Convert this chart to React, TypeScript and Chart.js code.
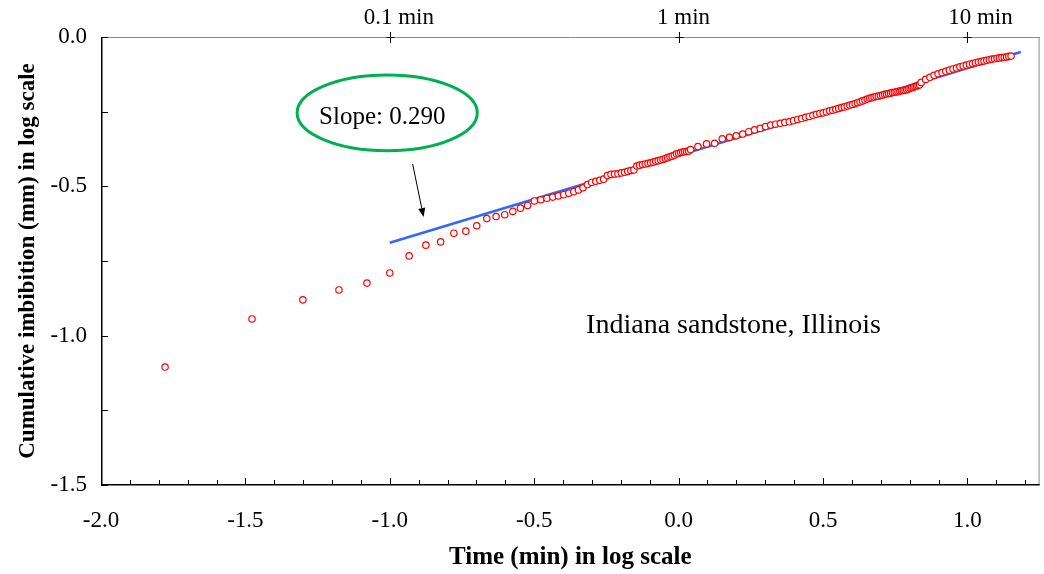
import React, { useEffect, useRef } from 'react';
import { Chart, registerables } from 'chart.js';

Chart.register(...registerables);

// Elapsed time of each measurement, in seconds (x axis = log10 of minutes)
const timesSec = [
  1, 2, 3, 4, 5, 6, 7, 8, 9, 10, 11, 12, 13, 14, 15, 16, 17, 18, 19, 20,
  21, 22, 23, 24, 25, 26, 27, 28, 29, 30, 31, 32, 33, 34, 35, 36, 37, 38, 39, 40,
  41, 42, 43, 44, 45, 46, 47, 48, 49, 50, 51, 52, 53, 54, 55, 56, 57, 58, 59, 60,
  61, 62, 63, 64, 65, 66,
  70, 75, 80, 85, 90, 95, 100, 105, 110, 115, 120, 125, 130, 135, 140, 145, 150,
  155, 160, 165, 170, 175, 180, 185, 190, 195, 200, 205, 210, 215, 220, 225, 230,
  235, 240, 245, 250, 255, 260, 265, 270, 275, 280, 285, 290, 295, 300, 305, 310,
  315, 320, 325, 330, 335, 340, 345, 350, 355, 360, 365, 370, 375, 380, 385, 390,
  395, 400, 405, 410, 415,
  430, 445, 460, 475, 490, 505, 520, 535, 550, 565, 580, 595, 610, 625, 640, 655,
  670, 685, 700, 715, 730, 745, 760, 775, 790, 805, 820, 835, 850,
];

// Cumulative imbibition (mm), log10 values
const logImbibition = [
  -1.105, -0.944, -0.880, -0.847, -0.824, -0.790, -0.733, -0.697, -0.686, -0.657,
  -0.650, -0.632, -0.608, -0.601, -0.595, -0.584, -0.573, -0.564, -0.549, -0.545,
  -0.540, -0.536, -0.532, -0.528, -0.523, -0.518, -0.512, -0.505, -0.494, -0.487,
  -0.483, -0.480, -0.476, -0.464, -0.460, -0.459, -0.458, -0.455, -0.453, -0.450,
  -0.447, -0.445, -0.432, -0.429, -0.427, -0.425, -0.423, -0.421, -0.419, -0.416,
  -0.414, -0.412, -0.410, -0.407, -0.404, -0.401, -0.399, -0.396, -0.391, -0.389,
  -0.387, -0.385, -0.384, -0.383, -0.382, -0.377,
  -0.367, -0.358, -0.356, -0.341, -0.336, -0.331, -0.325, -0.317, -0.311, -0.306,
  -0.300, -0.295, -0.292, -0.289, -0.286, -0.284, -0.280, -0.276, -0.273, -0.269,
  -0.266, -0.262, -0.259, -0.256, -0.254, -0.251, -0.247, -0.245, -0.242, -0.239,
  -0.236, -0.234, -0.231, -0.228, -0.226, -0.223, -0.220, -0.217, -0.214, -0.211,
  -0.208, -0.205, -0.203, -0.201, -0.199, -0.198, -0.196, -0.194, -0.192, -0.191,
  -0.189, -0.188, -0.186, -0.185, -0.184, -0.183, -0.181, -0.180, -0.179, -0.178,
  -0.177, -0.174, -0.172, -0.170, -0.168, -0.166, -0.164, -0.162, -0.160, -0.152,
  -0.142, -0.135, -0.128, -0.123, -0.119, -0.115, -0.111, -0.107, -0.104, -0.100,
  -0.097, -0.094, -0.091, -0.089, -0.086, -0.084, -0.082, -0.080, -0.078, -0.076,
  -0.074, -0.073, -0.071, -0.070, -0.069, -0.068, -0.067, -0.065, -0.064,
];

// Fitted straight line (slope 0.290)
const fitLineX = [-1.0, 1.185];
const fitLineY = [-0.689, -0.05];

// Axis ticks
const xMajorTicks = [-2.0, -1.5, -1.0, -0.5, 0.0, 0.5, 1.0];
const xMinorTicks = [
  -1.9, -1.8, -1.7, -1.6, -1.4, -1.3, -1.2, -1.1, -0.9, -0.8, -0.7, -0.6,
  -0.4, -0.3, -0.2, -0.1, 0.1, 0.2, 0.3, 0.4, 0.6, 0.7, 0.8, 0.9, 1.1, 1.2,
];
const yMajorTicks = [-1.5, -1.0, -0.5, 0.0];
const yMinorTicks = [-1.25, -0.75, -0.25];
const topTicks = [-1, 0, 1];
const topTickLabels = ['0.1 min', '1 min', '10 min'];

const FONT = "'Liberation Serif', 'Times New Roman', Times, serif";
const TOP_LABEL_SHIFT = [9, 5, 13];

const axesPlugin = {
  id: 'customAxes',
  afterDatasetsDraw(chart: any) {
    const { ctx, scales } = chart;
    const xs = scales.x;
    const ys = scales.y;
    ctx.save();
    // Slope callout ellipse
    const ecx = xs.getPixelForValue(-1.009);
    const ecy = ys.getPixelForValue(-0.254);
    const erx = xs.getPixelForValue(-1.009 + 0.312) - ecx;
    const ery = ys.getPixelForValue(-0.254 - 0.127) - ecy;
    ctx.beginPath();
    ctx.ellipse(ecx, ecy, erx, ery, 0, 0, Math.PI * 2);
    ctx.strokeStyle = '#00B050';
    ctx.lineWidth = 3;
    ctx.stroke();
    ctx.fillStyle = '#000';
    ctx.font = `25px ${FONT}`;
    ctx.textAlign = 'center';
    ctx.textBaseline = 'middle';
    ctx.fillText('Slope: 0.290', xs.getPixelForValue(-1.026), ys.getPixelForValue(-0.268));

    // Arrow
    const ax1 = xs.getPixelForValue(-0.921);
    const ay1 = ys.getPixelForValue(-0.425);
    const ax2 = xs.getPixelForValue(-0.883);
    const ay2 = ys.getPixelForValue(-0.603);
    const ang = Math.atan2(ay2 - ay1, ax2 - ax1);
    const hl = 9;
    const hw = 3.5;
    const bx = ax2 - hl * Math.cos(ang);
    const by = ay2 - hl * Math.sin(ang);
    ctx.beginPath();
    ctx.moveTo(ax1, ay1);
    ctx.lineTo(bx, by);
    ctx.strokeStyle = '#000';
    ctx.lineWidth = 1;
    ctx.stroke();
    ctx.beginPath();
    ctx.moveTo(ax2, ay2);
    ctx.lineTo(bx + hw * Math.sin(ang), by - hw * Math.cos(ang));
    ctx.lineTo(bx - hw * Math.sin(ang), by + hw * Math.cos(ang));
    ctx.closePath();
    ctx.fill();

    // Sample label
    ctx.font = `28px ${FONT}`;
    ctx.fillText('Indiana sandstone, Illinois', xs.getPixelForValue(0.190), ys.getPixelForValue(-0.966));
    ctx.restore();
  },
  afterDraw(chart: any) {
    const { ctx, chartArea, scales } = chart;
    const { left, right, top, bottom } = chartArea;
    const xs = scales.x;
    const ys = scales.y;
    ctx.save();
    // top & right border (gray)
    ctx.strokeStyle = '#8a8a8a';
    ctx.lineWidth = 1;
    ctx.beginPath();
    ctx.moveTo(left, top + 0.5);
    ctx.lineTo(right, top + 0.5);
    ctx.moveTo(right - 0.5, top);
    ctx.lineTo(right - 0.5, bottom);
    ctx.stroke();
    // left & bottom axes (black)
    ctx.strokeStyle = '#000';
    ctx.lineWidth = 1.5;
    ctx.beginPath();
    ctx.moveTo(left + 0.75, top);
    ctx.lineTo(left + 0.75, bottom);
    ctx.moveTo(left, bottom - 0.25);
    ctx.lineTo(right, bottom - 0.25);
    ctx.stroke();
    ctx.lineWidth = 1;
    ctx.beginPath();
    // bottom ticks (inward)
    xMajorTicks.forEach((v) => {
      const px = Math.round(xs.getPixelForValue(v)) + 0.5;
      ctx.moveTo(px, bottom);
      ctx.lineTo(px, bottom - 7);
    });
    xMinorTicks.forEach((v) => {
      const px = Math.round(xs.getPixelForValue(v)) + 0.5;
      ctx.moveTo(px, bottom);
      ctx.lineTo(px, bottom - 5);
    });
    // left ticks (inward)
    [...yMajorTicks, ...yMinorTicks].forEach((v) => {
      const py = Math.round(ys.getPixelForValue(v)) + 0.5;
      ctx.moveTo(left, py);
      ctx.lineTo(left + 7, py);
    });
    // top '+' ticks
    topTicks.forEach((v) => {
      const px = Math.round(xs.getPixelForValue(v)) + 0.5;
      ctx.moveTo(px, top - 5);
      ctx.lineTo(px, top + 6);
      ctx.moveTo(px - 4, top + 0.5);
      ctx.lineTo(px + 4, top + 0.5);
    });
    ctx.stroke();
    // top tick labels
    ctx.fillStyle = '#000';
    ctx.font = `23px ${FONT}`;
    ctx.textAlign = 'center';
    ctx.textBaseline = 'middle';
    topTicks.forEach((v, i) => {
      ctx.fillText(topTickLabels[i], xs.getPixelForValue(v) + TOP_LABEL_SHIFT[i], top - 19);
    });
    ctx.restore();
  },
};

export default function App() {
  const ref = useRef<HTMLCanvasElement | null>(null);

  useEffect(() => {
    document.body.style.margin = '0';
    const canvas = ref.current;
    if (!canvas) return;
    const tickFont = { family: FONT, size: 23 };

    const chart = new Chart(canvas, {
      type: 'scatter',
      data: {
        datasets: [
          {
            type: 'scatter',
            label: 'Imbibition',
            data: timesSec.map((t, i) => ({ x: Math.log10(t / 60), y: logImbibition[i] })),
            pointStyle: 'circle',
            pointRadius: 3.2,
            pointHoverRadius: 3.2,
            borderColor: '#FF0000',
            backgroundColor: '#FFFFFF',
            borderWidth: 1.2,
            order: 1,
          },
          {
            type: 'line',
            label: 'Fit',
            data: fitLineX.map((x, i) => ({ x, y: fitLineY[i] })),
            borderColor: '#3366FF',
            borderWidth: 2.5,
            pointRadius: 0,
            fill: false,
            order: 2,
          } as any,
        ],
      },
      options: {
        animation: false,
        responsive: false,
        devicePixelRatio: 1,
        layout: { padding: { left: 0, right: 2, top: 0, bottom: 0 } },
        plugins: { legend: { display: false }, tooltip: { enabled: false } },
        scales: {
          x: {
            type: 'linear',
            position: 'bottom',
            min: -2,
            max: 1.25,
            grid: { display: false, drawTicks: false },
            border: { display: false },
            afterBuildTicks: (s: any) => {
              s.ticks = xMajorTicks.map((v) => ({ value: v }));
            },
            ticks: {
              callback: (v: any) => Number(v).toFixed(1),
              font: tickFont,
              color: '#000',
              padding: 22,
              maxRotation: 0,
              autoSkip: false,
            },
            title: {
              display: true,
              text: 'Time (min) in log scale',
              font: { family: FONT, size: 25, weight: 'bold' },
              color: '#000',
              padding: { top: 0, bottom: 1 },
            },
            afterFit: (s: any) => {
              s.height = 89;
            },
          },
          x2: {
            type: 'linear',
            position: 'top',
            min: -2,
            max: 1.25,
            grid: { display: false, drawTicks: false },
            border: { display: false },
            ticks: { display: false },
            afterFit: (s: any) => {
              s.height = 37;
            },
          },
          y: {
            type: 'linear',
            min: -1.5,
            max: 0,
            grid: { display: false, drawTicks: false },
            border: { display: false },
            afterBuildTicks: (s: any) => {
              s.ticks = yMajorTicks.map((v) => ({ value: v }));
            },
            ticks: {
              callback: (v: any) => Number(v).toFixed(1),
              font: tickFont,
              color: '#000',
              padding: 14,
              autoSkip: false,
            },
            title: {
              display: true,
              text: 'Cumulative imbibition (mm) in log scale',
              font: { family: FONT, size: 23, weight: 'bold' },
              color: '#000',
              padding: { top: 14, bottom: 0 },
            },
            afterFit: (s: any) => {
              s.width = 101;
            },
          },
        },
      },
      plugins: [axesPlugin],
    });
    return () => chart.destroy();
  }, []);

  return (
    <div style={{ width: 1044, height: 574 }}>
      <canvas ref={ref} width={1044} height={574} style={{ display: 'block' }} />
    </div>
  );
}
